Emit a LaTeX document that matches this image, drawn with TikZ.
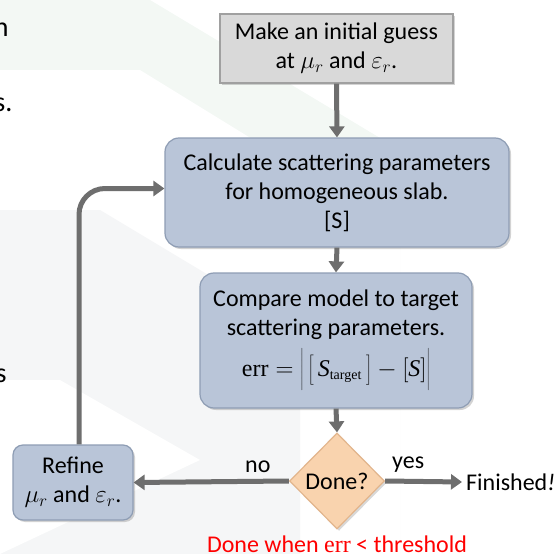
\documentclass[tikz,border=0pt]{standalone}
\usepackage{fontspec}
\setmainfont{Carlito}
\newfontfamily\serifr{Liberation Serif}
\usetikzlibrary{shapes.geometric,arrows.meta,calc,shadows}
\definecolor{gfill}{HTML}{D9D9D9}
\definecolor{gline}{HTML}{A0A0A0}
\definecolor{bfill}{HTML}{B9C5D8}
\definecolor{bline}{HTML}{8E9DB4}
\definecolor{pfill}{HTML}{F9D3AE}
\definecolor{pline}{HTML}{E2B58C}
\definecolor{arr}{HTML}{6E6E6E}
\definecolor{bgA}{HTML}{F3F8F4}
\definecolor{bgB}{HTML}{F5F6F7}
\tikzset{
  txt/.style={font=\fontsize{24}{29}\selectfont, align=center, text=black},
  gbox/.style={txt, rectangle, fill=gfill, draw=gline, line width=1.2pt, inner sep=0pt,
    drop shadow={opacity=0.35, shadow xshift=2pt, shadow yshift=-2pt}},
  bbox/.style={txt, rectangle, rounded corners=14pt, fill=bfill, draw=bline, line width=1.2pt, inner sep=0pt,
    drop shadow={opacity=0.35, shadow xshift=2pt, shadow yshift=-2pt}},
  dbox/.style={txt, diamond, aspect=1, fill=pfill, draw=pline, line width=1.2pt, inner sep=0pt,
    drop shadow={opacity=0.3, shadow xshift=2pt, shadow yshift=-2pt}},
  flow/.style={draw=arr, line width=5pt, -{Triangle[width=15pt,length=11pt]}},
  lbl/.style={txt},
  edge/.style={font=\fontsize{28}{30}\selectfont, text=black}
}
\newcommand{\tS}{\hbox{\serifr\itshape S}}
\begin{document}
\begin{tikzpicture}[x=1pt,y=-1pt]
\useasboundingbox (0,0) rectangle (558,554);
% faint background shapes
\fill[bgA] (0,0) -- (150,0) -- (400,150) -- (400,554) -- (0,554) -- cycle;
\fill[white] (0,70) -- (140,70) -- (400,230) -- (400,554) -- (0,554) -- cycle;
\fill[bgB] (0,210) -- (100,210) -- (300,330) -- (300,554) -- (0,554) -- cycle;
\fill[white] (0,380) -- (60,380) -- (200,460) -- (0,554) -- cycle;
% cut-off slide text
\node[edge, anchor=east] (t1) at (12,30) {n};
\node[edge, anchor=east] (t2) at (16,105) {s.};
\node[edge, anchor=east] (t3) at (10,376) {s};
% nodes
\node[gbox, minimum width=233pt, minimum height=69pt] (guess) at (336.5,48.5)
  {Make an initial guess\\ at $\mu_r$ and $\varepsilon_r$.};
\node[bbox, minimum width=344pt, minimum height=109pt] (calc) at (337,192.5)
  {Calculate scattering parameters\\ for homogeneous slab.\\ {[S]}};
\node[bbox, minimum width=272pt, minimum height=135pt] (comp) at (336,340.5)
  {Compare model to target\\ scattering parameters.\\[8pt]
   $\hbox{\serifr err}=\left|\vphantom{\rule[-14pt]{0pt}{36pt}}\left[\vphantom{\rule[-10pt]{0pt}{28pt}}\,\tS_{\hbox{\serifr\fontsize{14}{14}\selectfont target}}\,\right]-\left[\tS\right]\right|$};
\node[dbox, minimum width=95pt, minimum height=96pt] (done) at (337,481) {Done?};
\node[bbox, rounded corners=10pt, minimum width=120pt, minimum height=75pt] (refine) at (73,482.5)
  {Refine\\ $\mu_r$ and $\varepsilon_r$.};
\node[lbl, anchor=west, inner sep=0pt] (fin) at (466,482) {Finished\textit{!}};
\node[lbl, text=red, inner sep=0pt] (note) at (337,544) {Done when {\serifr err} < threshold};
% connectors
\draw[flow] (guess.south) -- (calc.north);
\draw[flow] (calc.south) -- (comp.north);
\draw[flow] (comp.south) -- (done.north);
\draw[flow] (done.east) -- node[lbl, above=3pt, pos=0.3] (yes) {yes} ($(fin.west)+(-4,0)$);
\draw[flow] (done.west) -- node[lbl, above=3pt, pos=0.2] (no) {no} (refine.east);
\draw[flow, rounded corners=26pt] ($(refine.north)+(6,0)$) |- ($(calc.west)+(0,-4)$);
\end{tikzpicture}
\end{document}
